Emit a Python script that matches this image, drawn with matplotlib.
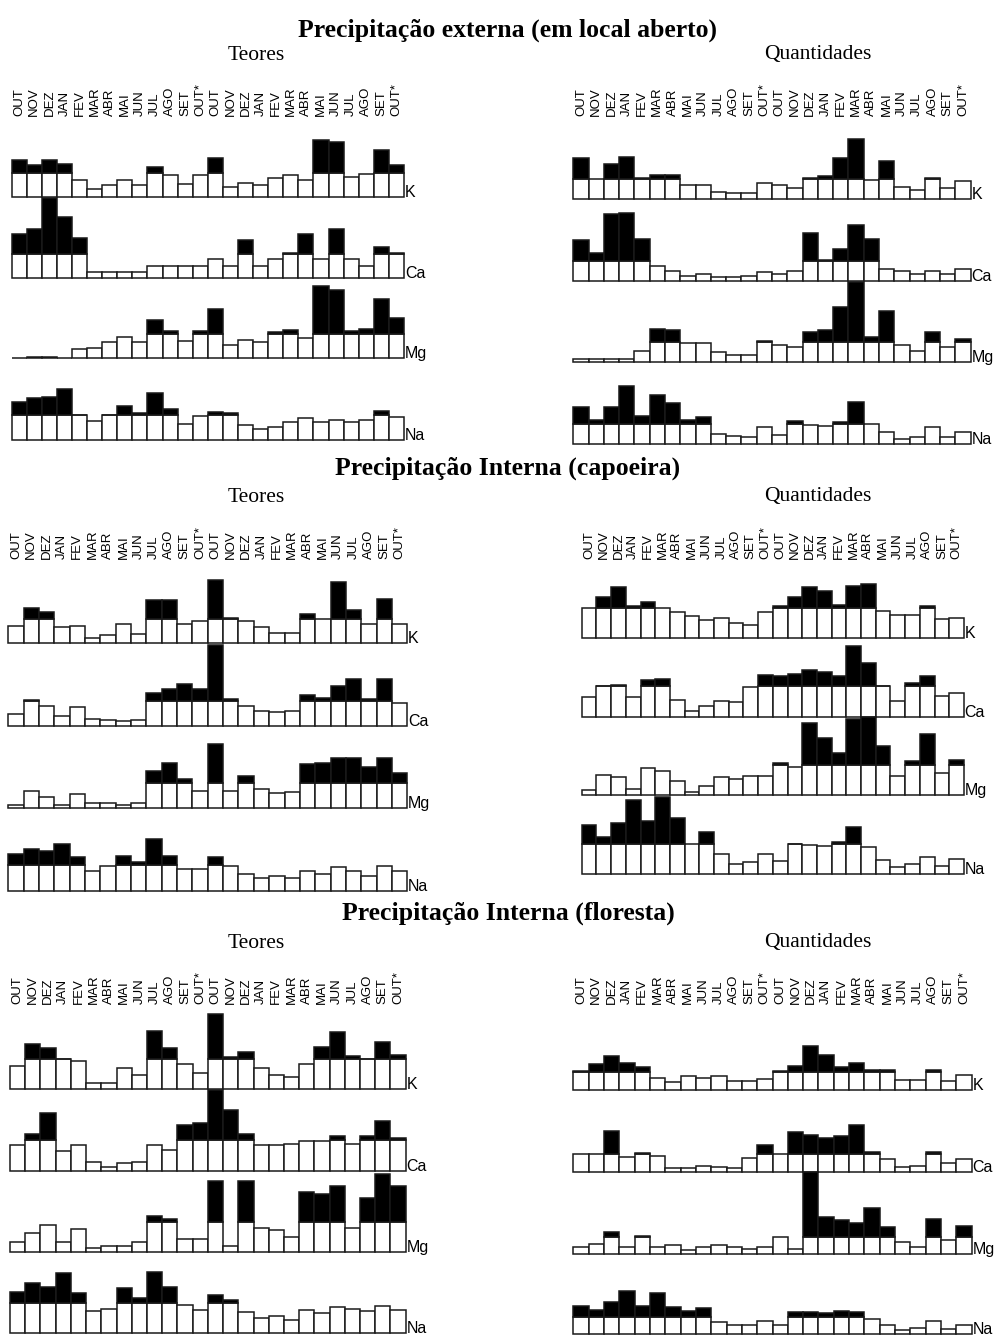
import matplotlib
matplotlib.use("Agg")
import matplotlib.pyplot as plt
from matplotlib import transforms

W, H = 995, 1336

months = ["OUT", "NOV", "DEZ", "JAN", "FEV", "MAR", "ABR", "MAI", "JUN", "JUL", "AGO", "SET", "OUT*",
          "OUT", "NOV", "DEZ", "JAN", "FEV", "MAR", "ABR", "MAI", "JUN", "JUL", "AGO", "SET", "OUT*"]
elements = ["K", "Ca", "Mg", "Na"]

section_titles = ["Precipitação externa (em local aberto)",
                  "Precipitação Interna (capoeira)",
                  "Precipitação Interna (floresta)"]
column_titles = ["Teores", "Quantidades"]

# ---- values (arbitrary units); white part capped at *_cap, black above ----
ext_teor_K = [112, 97, 112, 101, 52, 25, 36, 52, 36, 90, 66, 40, 66, 119, 32, 44, 36, 59, 66, 52, 173, 166, 62, 70, 142, 97]
ext_teor_Ca = [132, 147, 240, 185, 120, 18, 18, 18, 18, 37, 37, 37, 37, 57, 37, 114, 37, 57, 75, 132, 57, 147, 57, 37, 95, 75]
ext_teor_Mg = [2, 5, 5, 2, 27, 32, 48, 65, 48, 116, 81, 51, 81, 149, 39, 54, 48, 78, 85, 61, 218, 206, 81, 89, 179, 122]
ext_teor_Na = [115, 126, 130, 153, 76, 57, 76, 103, 80, 141, 92, 49, 72, 84, 80, 45, 34, 38, 53, 65, 53, 61, 53, 61, 88, 68]
ext_teor_cap = [72, 74, 72, 75]

ext_quant_K = [122, 60, 106, 126, 64, 72, 72, 41, 41, 22, 17, 17, 49, 41, 34, 64, 68, 122, 179, 57, 114, 37, 26, 64, 34, 53]
ext_quant_Ca = [124, 85, 200, 204, 127, 46, 31, 16, 20, 12, 12, 16, 27, 20, 31, 143, 62, 97, 169, 127, 35, 31, 20, 31, 20, 35]
ext_quant_Mg = [9, 9, 9, 9, 34, 100, 96, 57, 57, 30, 22, 22, 65, 53, 45, 90, 96, 165, 242, 77, 154, 53, 34, 90, 45, 69]
ext_quant_Na = [111, 72, 111, 172, 84, 145, 122, 72, 80, 30, 23, 19, 49, 26, 68, 57, 53, 64, 126, 60, 34, 15, 19, 49, 19, 34]
ext_quant_cap = [60, 60, 60, 60]

cap_teor_K = [52, 107, 95, 48, 52, 17, 25, 59, 29, 129, 129, 59, 68, 190, 75, 68, 48, 32, 32, 87, 72, 183, 99, 59, 133, 59]
cap_teor_Ca = [34, 77, 60, 29, 55, 21, 17, 13, 17, 99, 110, 126, 110, 241, 79, 60, 45, 40, 45, 92, 84, 119, 141, 79, 141, 68]
cap_teor_Mg = [11, 53, 34, 11, 42, 15, 15, 11, 15, 112, 135, 89, 53, 193, 53, 97, 57, 46, 50, 132, 135, 151, 151, 124, 151, 105]
cap_teor_Na = [109, 124, 120, 140, 102, 58, 74, 105, 86, 155, 105, 66, 66, 101, 74, 51, 39, 43, 39, 58, 51, 70, 59, 44, 74, 58]
cap_teor_cap = [73, 75, 75, 76]

cap_quant_K = [91, 122, 152, 95, 107, 91, 77, 65, 55, 61, 46, 38, 77, 95, 122, 152, 140, 99, 155, 163, 82, 69, 69, 95, 58, 61]
cap_quant_Ca = [58, 92, 96, 58, 110, 114, 51, 17, 32, 47, 43, 88, 126, 122, 129, 140, 133, 122, 213, 162, 92, 47, 100, 122, 62, 70]
cap_quant_Mg = [17, 61, 54, 20, 83, 73, 43, 10, 27, 54, 50, 57, 57, 96, 84, 218, 173, 126, 229, 234, 148, 57, 103, 184, 66, 106]
cap_quant_Na = [147, 110, 154, 222, 158, 232, 169, 90, 125, 59, 31, 35, 59, 39, 91, 87, 83, 95, 140, 80, 42, 21, 31, 50, 24, 46]
cap_quant_cap = [91, 91, 90, 90]

flo_teor_K = [69, 135, 123, 92, 84, 19, 19, 65, 42, 176, 123, 77, 50, 226, 96, 112, 65, 42, 38, 77, 128, 172, 101, 92, 142, 104]
flo_teor_Ca = [76, 111, 173, 60, 76, 27, 12, 22, 27, 76, 61, 138, 142, 242, 181, 111, 76, 76, 80, 88, 88, 103, 80, 103, 150, 99]
flo_teor_Mg = [31, 57, 80, 31, 69, 11, 19, 19, 31, 108, 100, 38, 38, 214, 19, 214, 73, 65, 46, 180, 173, 199, 73, 161, 234, 199]
flo_teor_Na = [123, 150, 138, 180, 119, 65, 72, 134, 104, 184, 138, 84, 69, 115, 100, 64, 46, 50, 38, 68, 61, 77, 73, 65, 81, 69]
flo_teor_cap = [91, 91, 90, 90]

flo_quant_K = [58, 79, 102, 82, 69, 38, 24, 42, 38, 42, 27, 27, 35, 58, 74, 132, 105, 70, 82, 62, 62, 31, 31, 62, 27, 46]
flo_quant_Ca = [53, 53, 123, 46, 57, 49, 11, 11, 19, 14, 11, 42, 80, 53, 119, 111, 103, 107, 142, 61, 38, 16, 19, 61, 26, 38]
flo_quant_Mg = [22, 31, 66, 22, 54, 22, 27, 12, 22, 27, 22, 15, 22, 50, 15, 245, 112, 101, 94, 139, 82, 35, 20, 105, 43, 85]
flo_quant_Na = [85, 73, 96, 130, 85, 123, 81, 69, 77, 35, 27, 27, 39, 27, 66, 66, 62, 70, 66, 46, 27, 12, 19, 39, 16, 27]
flo_quant_cap = [54, 53, 52, 52]

panels = [
    [(ext_teor_K, ext_teor_Ca, ext_teor_Mg, ext_teor_Na, ext_teor_cap),
     (ext_quant_K, ext_quant_Ca, ext_quant_Mg, ext_quant_Na, ext_quant_cap)],
    [(cap_teor_K, cap_teor_Ca, cap_teor_Mg, cap_teor_Na, cap_teor_cap),
     (cap_quant_K, cap_quant_Ca, cap_quant_Mg, cap_quant_Na, cap_quant_cap)],
    [(flo_teor_K, flo_teor_Ca, flo_teor_Mg, flo_teor_Na, flo_teor_cap),
     (flo_quant_K, flo_quant_Ca, flo_quant_Mg, flo_quant_Na, flo_quant_cap)],
]

# ---- layout (pixels) ----
UNIT = 3.0  # data units per pixel
sec_title_y = [30, 468, 913]
col_title_y = [55, 497, 943]
col_title_x = [256, 818]
title_x = 508
label_bottom_y = [116, 559, 1004]
panel_x = [[(11.7, 404), (573.3, 970.7)],
           [(8.3, 407.3), (581.7, 964)],
           [(10, 405.7), (573.3, 971.7)]]
baselines = [[[197.3, 278.3, 358.3, 440], [199, 281, 362.3, 443.7]],
             [[643.3, 725.5, 808.3, 890.7], [638, 716.7, 795.3, 874]],
             [[1089.3, 1170.7, 1252, 1333], [1090.3, 1172, 1254, 1334]]]

serif = ["Liberation Serif", "DejaVu Serif"]
sans = ["Liberation Sans", "DejaVu Sans"]

fig = plt.figure(figsize=(W / 100, H / 100), dpi=100)
fig.patch.set_facecolor("white")

n = len(months)
xs = list(range(n))
AX_H = 90  # pixels of axes height

for s in range(3):
    fig.text(title_x / W, 1 - sec_title_y[s] / H, section_titles[s], family=serif,
             fontweight="bold", fontsize=18.5, ha="center", va="center")
    for c in range(2):
        fig.text(col_title_x[c] / W, 1 - col_title_y[s] / H, column_titles[c], family=serif,
                 fontsize=15.5, ha="center", va="center")
        x0, x1 = panel_x[s][c]
        series = panels[s][c]
        caps = series[4]
        for r in range(4):
            vals = series[r]
            cap = caps[r]
            base = baselines[s][c][r]
            ax = fig.add_axes([x0 / W, 1 - base / H, (x1 - x0) / W, AX_H / H])
            ax.set_xlim(-0.5, n - 0.5)
            ax.set_ylim(0, AX_H * UNIT)
            ax.axis("off")
            white = [min(v, cap) for v in vals]
            black = [max(v - cap, 0) for v in vals]
            ax.bar(xs, white, width=1.0, color="white", edgecolor="#1a1a1a", linewidth=1.1, clip_on=False)
            bx = [x for x, b in zip(xs, black) if b > 0]
            bh = [b for b in black if b > 0]
            ax.bar(bx, bh, bottom=cap, width=1.0, color="black", edgecolor="#1a1a1a", linewidth=1.1, clip_on=False)
            ax.text(n - 0.45, 0, elements[r], family=sans, fontsize=11.5, ha="left", va="baseline", clip_on=False)
            if r == 0:
                tr = transforms.blended_transform_factory(ax.transData, fig.transFigure)
                for i, m in enumerate(months):
                    ax.text(i, 1 - label_bottom_y[s] / H, m, transform=tr, rotation=90,
                            family=sans, fontsize=9.5, ha="center", va="bottom", clip_on=False)

fig.savefig("out.png", dpi=100, facecolor="white")
